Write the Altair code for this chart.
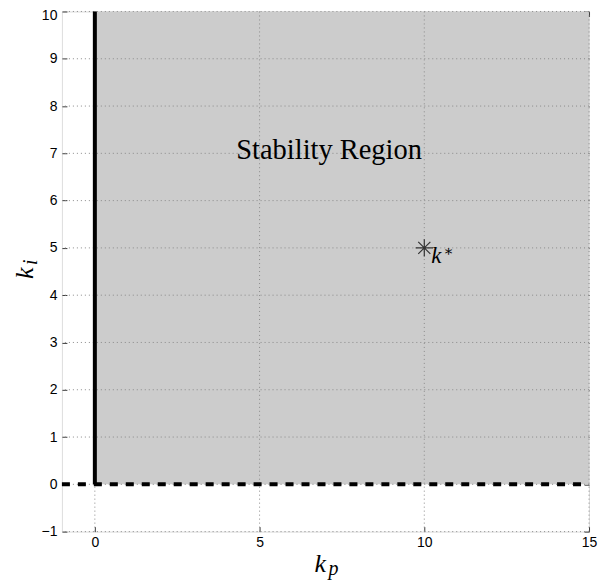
import altair as alt
import pandas as pd

# ---- data ----
x_ticks = [0, 5, 10, 15]
y_ticks = [-1, 0, 1, 2, 3, 4, 5, 6, 7, 8, 9, 10]
region_kp = [0, 15]      # stability region extent in kp
region_ki = [0, 10]      # stability region extent in ki
boundary_kp = [0]        # solid boundary kp = 0
boundary_ki = [0, 10]
dashed_ki = [0]          # dashed boundary ki = 0
dashed_kp = [-1, 15]
kstar_kp = [10]
kstar_ki = [5]
label_text = ["Stability Region"]
label_kp = [7.11]
label_ki = [6.89]

XD = [-1, 15]
YD = [-1, 10]

xs = alt.Scale(domain=XD, nice=False, zero=False)
ys = alt.Scale(domain=YD, nice=False, zero=False)


def X(f):
    return alt.X(f, scale=xs, axis=None)


def Y(f):
    return alt.Y(f, scale=ys, axis=None)


W, H = 528, 521
TICK = "#3c3c3c"

region_df = pd.DataFrame({"x": [region_kp[0]], "x2": [region_kp[1]],
                          "y": [region_ki[0]], "y2": [region_ki[1]]})
rect = alt.Chart(region_df).mark_rect(color="#cccccc").encode(
    x=alt.X("x:Q", scale=xs,
            axis=alt.Axis(values=x_ticks, title=None, grid=False, domain=False,
                          offset=-5, tickSize=5, tickColor=TICK, labelFlush=False,
                          labelFont="Liberation Sans", labelFontSize=14,
                          labelColor="black", labelPadding=4, orient="bottom")),
    x2="x2:Q",
    y=alt.Y("y:Q", scale=ys,
            axis=alt.Axis(values=y_ticks, title=None, grid=False, domain=False,
                          offset=-5, tickSize=5, tickColor=TICK, labelFlush=False,
                          labelFont="Liberation Sans", labelFontSize=14,
                          labelColor="black", labelPadding=5, orient="left",
                          labelOffset=alt.condition("datum.value == 10",
                                                    alt.value(4), alt.value(0)))),
    y2="y2:Q",
)

# inward ticks on top and right
top_ticks = alt.Chart(pd.DataFrame({"x": x_ticks})).mark_rule(opacity=0).encode(
    x=alt.X("x:Q", scale=xs,
            axis=alt.Axis(values=x_ticks, title=None, grid=False, domain=False,
                          offset=-5, tickSize=5, tickColor=TICK,
                          labels=False, orient="top")),
)
right_ticks = alt.Chart(pd.DataFrame({"y": y_ticks})).mark_rule(opacity=0).encode(
    y=alt.Y("y:Q", scale=ys,
            axis=alt.Axis(values=y_ticks, title=None, grid=False, domain=False,
                          offset=-5, tickSize=5, tickColor=TICK,
                          labels=False, orient="right")),
)

grid_style = dict(color="#8a8a8a", strokeWidth=1, strokeDash=[1, 3])
vgrid = alt.Chart(pd.DataFrame({"x": x_ticks})).mark_rule(**grid_style).encode(
    x=X("x:Q"))
hgrid = alt.Chart(pd.DataFrame({"y": y_ticks})).mark_rule(**grid_style).encode(
    y=Y("y:Q"))

vline = alt.Chart(pd.DataFrame({"x": boundary_kp, "y": [boundary_ki[0]],
                                "y2": [boundary_ki[1]]})).mark_rule(
    color="black", strokeWidth=4).encode(
    x=X("x:Q"), y=Y("y:Q"), y2="y2:Q")

hline = alt.Chart(pd.DataFrame({"y": dashed_ki, "x": [dashed_kp[0]],
                                "x2": [dashed_kp[1]]})).mark_rule(
    color="black", strokeWidth=4, strokeDash=[8, 8], strokeCap="butt").encode(
    y=Y("y:Q"), x=X("x:Q"), x2="x2:Q")

star_path = "M-1,0L1,0M0,-1L0,1M-0.7,-0.7L0.7,0.7M-0.7,0.7L0.7,-0.7"
kdf = pd.DataFrame({"x": kstar_kp, "y": kstar_ki})
star = alt.Chart(kdf).mark_point(shape=star_path, size=300, color="#333333",
                                 strokeWidth=1.2, filled=False, opacity=1).encode(
    x=X("x:Q"), y=Y("y:Q"))
kstar_k = alt.Chart(kdf).mark_text(text="k", font="Liberation Serif", fontStyle="italic",
                                   fontSize=23, align="left", baseline="alphabetic",
                                   dx=7, dy=15, color="black").encode(
    x=X("x:Q"), y=Y("y:Q"))
kstar_s = alt.Chart(kdf).mark_text(text="∗", font="DejaVu Serif",
                                   fontSize=15, align="center", baseline="middle",
                                   dx=24, dy=3, color="black").encode(
    x=X("x:Q"), y=Y("y:Q"))

region_label = alt.Chart(pd.DataFrame({"t": label_text, "x": label_kp, "y": label_ki})).mark_text(
    font="Liberation Serif", fontSize=28.5, align="center", baseline="alphabetic",
    color="black").encode(
    x=X("x:Q"), y=Y("y:Q"), text="t:N")

one = pd.DataFrame({"a": [0]})
xlab_k = alt.Chart(one).mark_text(text="k", font="Liberation Serif", fontStyle="italic",
                                  fontSize=26, align="left", baseline="alphabetic",
                                  color="black").encode(
    x=alt.value(253), y=alt.value(561))
xlab_p = alt.Chart(one).mark_text(text="p", font="Liberation Serif", fontStyle="italic",
                                  fontSize=20, align="left", baseline="alphabetic",
                                  color="black").encode(
    x=alt.value(267), y=alt.value(564))
ylab_k = alt.Chart(one).mark_text(text="k", font="Liberation Serif", fontStyle="italic",
                                  fontSize=26, align="left", baseline="alphabetic",
                                  angle=270, color="black").encode(
    x=alt.value(-29), y=alt.value(268))
ylab_i = alt.Chart(one).mark_text(text="i", font="Liberation Serif", fontStyle="italic",
                                  fontSize=20, align="left", baseline="alphabetic",
                                  angle=270, color="black").encode(
    x=alt.value(-25), y=alt.value(254))

chart = alt.layer(
    rect, vgrid, hgrid, vline, hline, star, kstar_k, kstar_s, region_label,
    top_ticks, right_ticks, xlab_k, xlab_p, ylab_k, ylab_i
).resolve_axis(x="independent", y="independent").properties(
    width=W, height=H,
    autosize=alt.AutoSizeParams(type="none"),
    padding={"left": 54, "top": 3, "right": 10, "bottom": 50},
).configure_view(stroke="#3c3c3c", strokeWidth=1).configure(background="white")

chart.save("out.html", embed_options={"renderer": "svg", "actions": False})
